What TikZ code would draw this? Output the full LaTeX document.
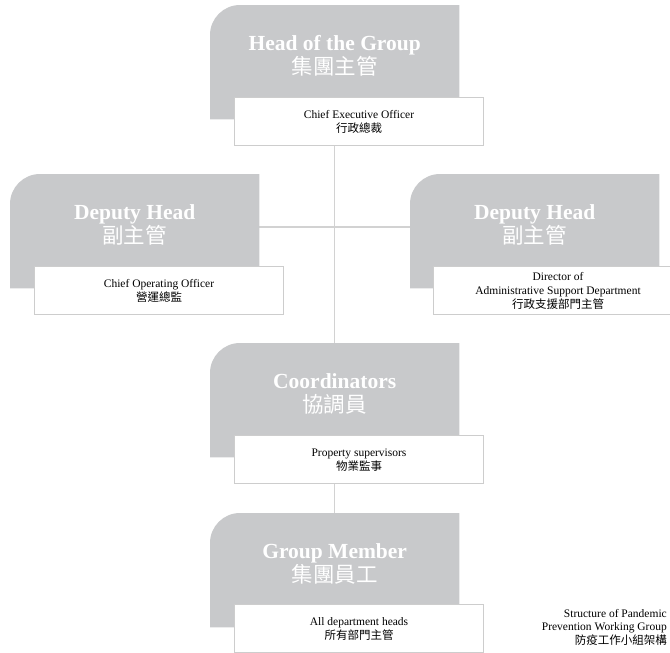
\documentclass[tikz,border=0pt]{standalone}
\usepackage{fontspec}
\setmainfont{Liberation Serif}
\newfontfamily\cjk{Noto Sans CJK TC}
\usetikzlibrary{backgrounds}

\definecolor{panelgray}{RGB}{200,201,203}
\definecolor{linegray}{RGB}{210,210,210}
\definecolor{boxgray}{RGB}{205,205,205}

\begin{document}
\begin{tikzpicture}[x=1pt, y=-1pt,
  panel/.style={minimum width=249pt, minimum height=114pt, inner sep=0pt, anchor=north west},
  title/.style={text=white, align=center, inner sep=0pt, font=\bfseries\fontsize{21.5}{24}\selectfont},
  post/.style={draw=boxgray, line width=1pt, fill=white, minimum width=249pt, minimum height=48pt,
    inner sep=0pt, anchor=north west, align=center, font=\fontsize{11.5}{14}\selectfont},
  link/.style={draw=linegray, line width=1.5pt}]
\useasboundingbox (0,0) rectangle (670,653);

% grey panels
\node[panel] (head) at (210,5) {};
\node[panel] (depL) at (10,174) {};
\node[panel] (depR) at (410,174) {};
\node[panel] (coord) at (210,343) {};
\node[panel] (member) at (210,513) {};

\node[title] (headT) at ([yshift=-51pt]head.north) {Head of the Group\\\cjk\mdseries 集團主管};
\node[title] (depLT) at ([yshift=-51pt]depL.north) {Deputy Head\\\cjk\mdseries 副主管};
\node[title] (depRT) at ([yshift=-51pt]depR.north) {Deputy Head\\\cjk\mdseries 副主管};
\node[title] (coordT) at ([yshift=-51pt]coord.north) {Coordinators\\\cjk\mdseries 協調員};
\node[title] (memberT) at ([yshift=-51pt]member.north) {Group Member\\\cjk\mdseries 集團員工};

% white boxes
\node[post] (headB) at ([xshift=24pt,yshift=22pt]head.south west) {Chief Executive Officer\\\cjk 行政總裁};
\node[post] (depLB) at ([xshift=24pt,yshift=22pt]depL.south west) {Chief Operating Officer\\\cjk 營運總監};
\node[post] (depRB) at ([xshift=23pt,yshift=22pt]depR.south west) {Director of\\Administrative Support Department\\\cjk 行政支援部門主管};
\node[post] (coordB) at ([xshift=24pt,yshift=22pt]coord.south west) {Property supervisors\\\cjk 物業監事};
\node[post] (memberB) at ([xshift=24pt,yshift=23pt]member.south west) {All department heads\\\cjk 所有部門主管};

\node[anchor=north east, inner sep=0pt, align=right, font=\fontsize{11.5}{13.5}\selectfont] (caption) at (667,609)
  {Structure of Pandemic\\Prevention Working Group\\\cjk 防疫工作小組架構};

\begin{scope}[on background layer]
  \draw[link] (head |- headB.south) -- (member.north);
  \draw[link] ([yshift=4pt]depL.east) -- ([yshift=4pt]depR.west);
  \foreach \p in {head,depL,depR,coord,member}
    \fill[panelgray] (\p.south west) -- ([yshift=-30pt]\p.north west)
      arc[start angle=180, end angle=90, radius=30pt] -- (\p.north east) -- (\p.south east) -- cycle;
\end{scope}
\end{tikzpicture}
\end{document}
